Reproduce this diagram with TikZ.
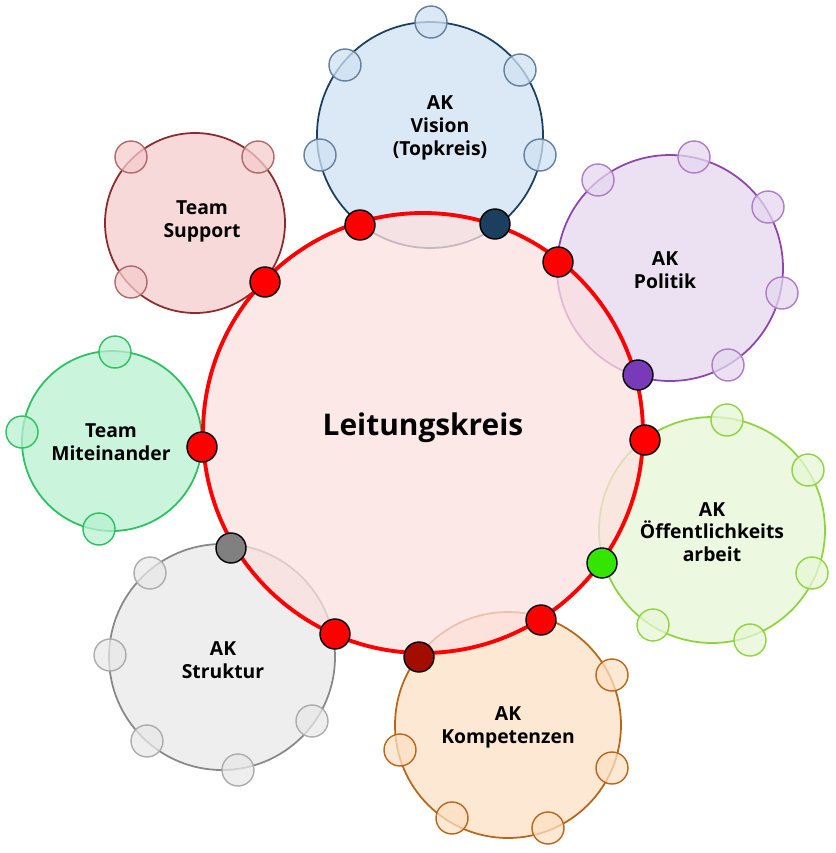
\documentclass[tikz,border=0pt]{standalone}
\usepackage{fontspec}
\setmainfont{Open Sans}
\begin{document}
\begin{tikzpicture}[x=0.02cm,y=-0.02cm,
 sat/.style={line width=1pt,fill opacity=0.75},
 sm/.style={circle,minimum size=0.64cm,inner sep=0pt,line width=0.8pt,fill opacity=0.75},
 dot/.style={circle,minimum size=0.6cm,inner sep=0pt,draw=black,line width=0.8pt},
 lab/.style={font=\bfseries\fontsize{11}{13}\selectfont,align=center,text=black}]
\useasboundingbox (0,0) rectangle (836,853);
\definecolor{bF}{HTML}{CFE2F3}\definecolor{bD}{HTML}{1C3F60}
\definecolor{pF}{HTML}{E4D7EF}\definecolor{pD}{HTML}{8E44AD}
\definecolor{gF}{HTML}{E6F6D4}\definecolor{gD}{HTML}{8ED43F}
\definecolor{oF}{HTML}{FDE0C4}\definecolor{oD}{HTML}{B8661A}
\definecolor{sF}{HTML}{E8E8E8}\definecolor{sD}{HTML}{888888}
\definecolor{mF}{HTML}{B8F0D0}\definecolor{mD}{HTML}{2BC060}
\definecolor{tF}{HTML}{F4CCCC}\definecolor{tD}{HTML}{8B2B2B}
\definecolor{lF}{HTML}{FDE0E0}
% AK Vision
\filldraw[sat,fill=bF,draw=bD] (430,135) circle (113);
\foreach \p in {(431,22),(345,65),(520,70),(320,155),(540,155)} \node[sm,fill=bF,draw=bD!60!bF] at \p {};
% Politik
\filldraw[sat,fill=pF,draw=pD] (670,268) circle (113);
\foreach \p in {(694,157),(598,180),(768,207),(782,293),(728,365)} \node[sm,fill=pF,draw=pD!70] at \p {};
% Oeff
\filldraw[sat,fill=gF,draw=gD] (712,530) circle (113);
\foreach \p in {(727,420),(808,470),(812,573),(750,640),(653,625)} \node[sm,fill=gF,draw=gD] at \p {};
% Kompetenzen
\filldraw[sat,fill=oF,draw=oD] (508,725) circle (113);
\foreach \p in {(612,675),(400,750),(612,768),(548,828),(452,818)} \node[sm,fill=oF,draw=oD] at \p {};
% Struktur
\filldraw[sat,fill=sF,draw=sD] (222,657) circle (113);
\foreach \p in {(150,573),(110,655),(147,741),(238,770),(312,721)} \node[sm,fill=sF,draw=sD!70] at \p {};
% Miteinander
\filldraw[sat,fill=mF,draw=mD] (112,441) circle (90);
\foreach \p in {(115,352),(22,432),(99,529)} \node[sm,fill=mF,draw=mD] at \p {};
% Support
\filldraw[sat,fill=tF,draw=tD] (195,223) circle (90);
\foreach \p in {(131,157),(258,157),(131,282)} \node[sm,fill=tF,draw=tD!70] at \p {};
% main
\fill[lF,fill opacity=0.75] (423,433) circle (220);
\draw[red,line width=2.2pt] (423,433) circle (220);
\node[font=\bfseries\fontsize{17}{20}\selectfont] (main) at (423,428) {Leitungskreis};
\node[lab] (vis) at (440,128) {AK\\Vision\\(Topkreis)};
\node[lab] (pol) at (665,270) {AK\\Politik};
\node[lab] (oef) at (712,532) {AK\\Öffentlichkeits\\arbeit};
\node[lab] (kom) at (508,727) {AK\\Kompetenzen};
\node[lab] (str) at (223,660) {AK\\Struktur};
\node[lab] (mit) at (111,442) {Team\\Miteinander};
\node[lab] (sup) at (202,221) {Team\\Support};
% dots
\foreach \p in {(360,225),(265,282),(558,262),(645,440),(202,447),(335,634),(541,620)} \node[dot,fill=red] at \p {};
\node[dot,fill=bD] at (495,224) {};
\node[dot,fill=pD!85!blue] at (638,375) {};
\node[dot,fill=gray] at (231,548) {};
\node[dot,fill=green!70!lime!90!black] at (602,563) {};
\node[dot,fill=red!60!black!90!orange] at (419,657) {};
\end{tikzpicture}
\end{document}
